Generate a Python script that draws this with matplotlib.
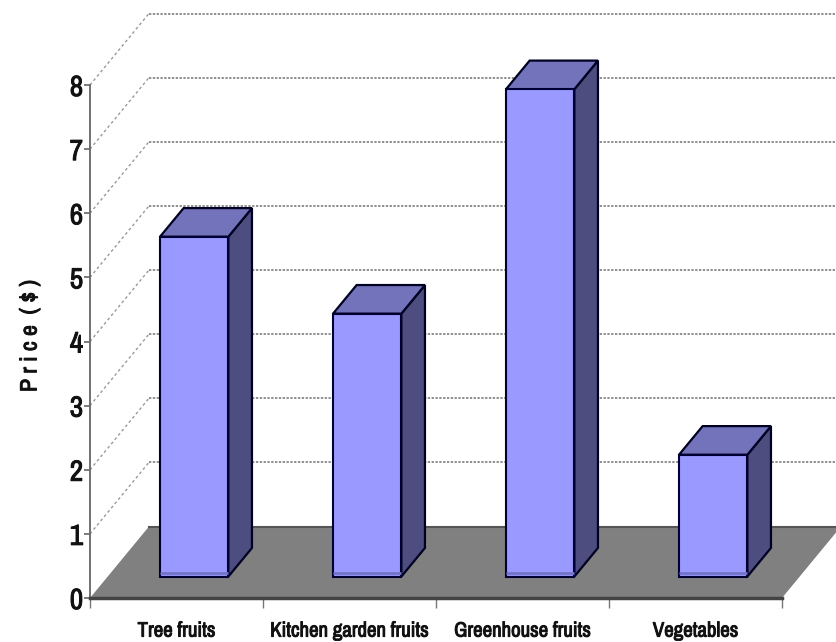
import matplotlib
matplotlib.use("Agg")
import matplotlib.pyplot as plt
import matplotlib.patheffects as pe
from matplotlib import font_manager as fm
from matplotlib.patches import Polygon

categories = ["Tree fruits", "Kitchen garden fruits", "Greenhouse fruits", "Vegetables"]
prices = [5.3, 4.1, 7.6, 1.9]
y_ticks = [0, 1, 2, 3, 4, 5, 6, 7, 8]

# depth of the fake 3d box, in data units
wall_dx = 0.341
wall_dy = 1.115
bar_front = 0.3
bar_back = 0.7
bar_width = 0.395

# narrow face if the machine has one, plain Liberation at a smaller size if not
installed = {f.name for f in fm.fontManager.ttflist}
if 'Archivo Narrow' in installed:
    plt.rcParams['font.family'] = ['Archivo Narrow', 'Liberation Sans', 'DejaVu Sans']
    cat_size, tick_size, title_size = 15, 21, 17
else:
    plt.rcParams['font.family'] = ['Liberation Sans', 'DejaVu Sans']
    cat_size, tick_size, title_size = 11, 15, 13

# the narrow face has no bold, so thicken it with a thin stroke
fat = [pe.withStroke(linewidth=0.7, foreground='#111111')]


def depth(frac):
    return frac * wall_dx, frac * wall_dy


def draw_bar(ax, pos, value):
    """front face with ax.bar, side and top as polygons"""
    fx, fy = depth(bar_front)
    bx, by = depth(bar_back)
    left = pos + 0.5 - bar_width / 2 + fx
    right = left + bar_width
    ax.bar(left, value, bar_width, bottom=fy, align='edge', color='#9999ff',
           edgecolor='#000033', linewidth=1.5, zorder=5, clip_on=False)
    # darker strip along the bottom of the front face
    ax.plot([left, right], [fy + 0.05, fy + 0.05], color='#7373c8', lw=2,
            solid_capstyle='butt', zorder=5.5, clip_on=False)
    side = [(right, fy), (right + bx - fx, by), (right + bx - fx, fy + value + by - fy),
            (right, fy + value)]
    top = [(left, fy + value), (left + bx - fx, fy + value + by - fy),
           (right + bx - fx, fy + value + by - fy), (right, fy + value)]
    ax.add_patch(Polygon(side, closed=True, facecolor='#4d4d80', edgecolor='#000022',
                         linewidth=1.6, zorder=4, clip_on=False))
    ax.add_patch(Polygon(top, closed=True, facecolor='#7373bb', edgecolor='#000022',
                         linewidth=1.6, zorder=4, clip_on=False))


fig = plt.figure(figsize=(8.36, 6.42), dpi=100)
ax = fig.add_axes([90 / 836, 44 / 642, 692 / 836, 513 / 642])
n = len(categories)
ax.set_xlim(0, n)
ax.set_ylim(0, 8)

# floor
floor = [(0, 0), (n, 0), (n + wall_dx, wall_dy), (wall_dx, wall_dy)]
ax.add_patch(Polygon(floor, closed=True, facecolor='#808080', edgecolor='none',
                     zorder=1, clip_on=False))
ax.plot([wall_dx, n + wall_dx], [wall_dy, wall_dy], color='#555555', lw=1.5,
        zorder=1.5, clip_on=False)

# dotted grid, side wall then back wall
for v in y_ticks[1:]:
    ax.plot([0, wall_dx], [v, v + wall_dy], color='#999999', lw=1, ls=(0, (2, 2)),
            zorder=2, clip_on=False)
    ax.plot([wall_dx, n + wall_dx], [v + wall_dy, v + wall_dy], color='#707070', lw=1.1,
            ls=(0, (1.5, 1)), zorder=2, clip_on=False)

for i, val in enumerate(prices):
    draw_bar(ax, i, val)

for s in ['top', 'right']:
    ax.spines[s].set_visible(False)
ax.spines['left'].set_color('#666666')
ax.spines['left'].set_linewidth(1.3)
ax.spines['bottom'].set_color('#444444')
ax.spines['bottom'].set_linewidth(2.5)
ax.spines['bottom'].set_zorder(3)

ax.set_yticks(y_ticks)
ax.set_yticklabels([str(v) for v in y_ticks], fontsize=tick_size, color='#111111', path_effects=fat)
ax.tick_params(axis='y', length=4, width=1.2, color='#666666', pad=1)

ax.set_xticks(range(n + 1))
ax.set_xticklabels([])
ax.tick_params(axis='x', which='major', length=7, width=1, color='#777777')
ax.set_xticks([i + 0.5 for i in range(n)], minor=True)
ax.set_xticklabels(categories, minor=True, fontsize=cat_size, color='#111111', path_effects=fat)
ax.tick_params(axis='x', which='minor', length=0, pad=17)

fig.text(30 / 836, 1 - 336 / 642, "P r i c e  ( $ )", rotation=90, ha='center', va='center',
         fontsize=title_size, color='#111111', path_effects=fat)

fig.savefig("out.png", dpi=100)
